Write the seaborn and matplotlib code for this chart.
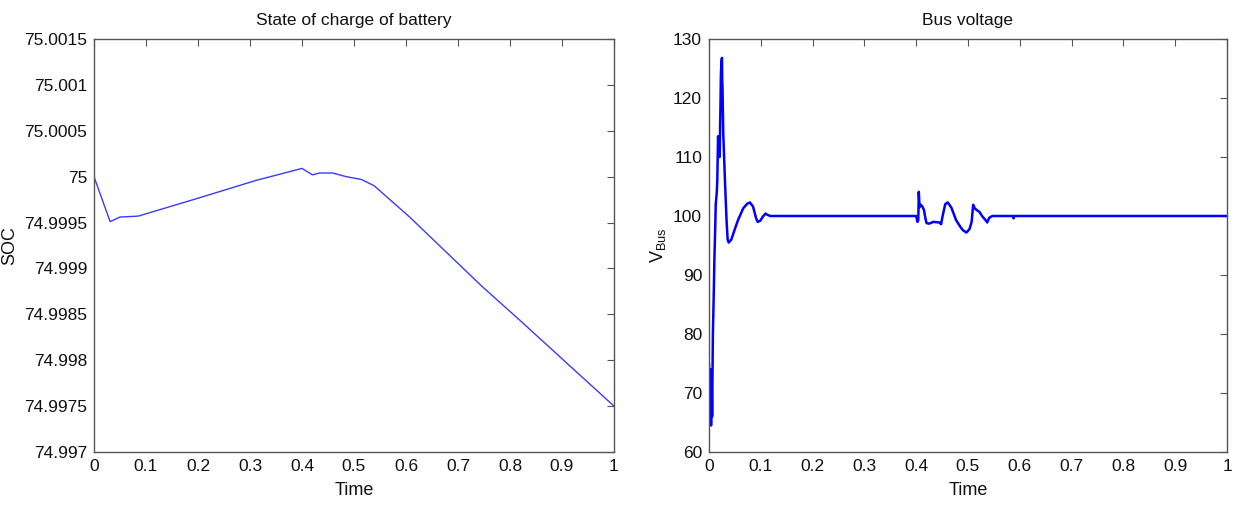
import matplotlib
matplotlib.use("Agg")
import matplotlib.pyplot as plt
import seaborn as sns
import pandas as pd
from matplotlib.ticker import FixedLocator, FixedFormatter

# ---------------- data ----------------
soc_time = [0.0, 0.031, 0.05, 0.085, 0.197, 0.312, 0.40, 0.42, 0.434, 0.459,
            0.485, 0.514, 0.539, 0.555, 0.607, 0.677, 0.747, 0.818, 0.998, 1.0]
soc_value = [75.0, 74.99951, 74.99956, 74.99957, 74.99976, 74.99996, 75.00009,
             75.00002, 75.00004, 75.00004, 75.0, 74.99997, 74.9999, 74.99982,
             74.99956, 74.99918, 74.9988, 74.99844, 74.99751, 74.9975]

bus_time = [0.0, 0.002, 0.003, 0.004, 0.005, 0.006, 0.0075, 0.009, 0.0105, 0.012,
            0.013, 0.015, 0.016, 0.0175, 0.019, 0.0205, 0.022, 0.023, 0.024, 0.025,
            0.0255, 0.026, 0.0275, 0.031, 0.034, 0.036, 0.038, 0.043, 0.05, 0.056,
            0.066, 0.074, 0.079, 0.085, 0.091, 0.094, 0.099, 0.104, 0.109, 0.113,
            0.118, 0.40, 0.4025, 0.404, 0.405, 0.4065, 0.409, 0.412, 0.415, 0.418,
            0.42, 0.425, 0.433, 0.445, 0.448, 0.451, 0.456, 0.461, 0.468, 0.477,
            0.485, 0.49, 0.497, 0.503, 0.507, 0.51, 0.513, 0.517, 0.522, 0.528,
            0.534, 0.537, 0.541, 0.547, 0.587, 0.588, 0.589, 1.0]
bus_value = [75, 66, 74, 64.5, 73, 66, 80, 86, 93, 98,
             102, 104, 106, 113.5, 111, 110, 118, 124, 126, 126.8,
             123, 122, 114, 105.5, 99, 96, 95.5, 96, 97.8, 99.3,
             101.3, 102.1, 102.3, 101.6, 99.6, 99.0, 99.2, 99.9, 100.4, 100.2,
             100.0, 100.0, 99.0, 99.3, 104.1, 101.5, 101.9, 101.6, 101.0, 99.5,
             98.8, 98.7, 99.0, 98.9, 98.6, 100.0, 102.0, 102.3, 101.4, 99.3,
             98.2, 97.6, 97.2, 97.8, 99.0, 101.9, 101.3, 101.0, 100.7, 99.9,
             99.3, 98.9, 99.7, 100.0, 100.0, 99.6, 100.0, 100.0]

x_ticks = [0, 0.1, 0.2, 0.3, 0.4, 0.5, 0.6, 0.7, 0.8, 0.9, 1]
x_labels = ["0", "0.1", "0.2", "0.3", "0.4", "0.5", "0.6", "0.7", "0.8", "0.9", "1"]
soc_ticks = [74.997, 74.9975, 74.998, 74.9985, 74.999, 74.9995, 75.0, 75.0005, 75.001, 75.0015]
soc_labels = ["74.997", "74.9975", "74.998", "74.9985", "74.999", "74.9995",
              "75", "75.0005", "75.001", "75.0015"]
bus_ticks = [60, 70, 80, 90, 100, 110, 120, 130]
bus_labels = ["60", "70", "80", "90", "100", "110", "120", "130"]

titles = ["State of charge of battery", "Bus voltage"]
xlabel = "Time"
ylabels = ["SOC", r"V$_{\mathrm{Bus}}$"]

# ---------------- style ----------------
sns.set_style("white")
plt.rcParams["font.family"] = ["Liberation Sans", "DejaVu Sans"]
plt.rcParams["mathtext.fontset"] = "custom"
plt.rcParams["mathtext.rm"] = "Liberation Sans"
plt.rcParams["mathtext.it"] = "Liberation Sans"

fig = plt.figure(figsize=(12.35, 5.07), dpi=100)
ax1 = fig.add_axes([94 / 1235, 55 / 507, 520 / 1235, 413 / 507])
ax2 = fig.add_axes([709 / 1235, 55 / 507, 518 / 1235, 413 / 507])

df_soc = pd.DataFrame({"t": soc_time, "v": soc_value})
df_bus = pd.DataFrame({"t": bus_time, "v": bus_value})

sns.lineplot(data=df_soc, x="t", y="v", ax=ax1, sort=False, estimator=None,
             color="#3a3aff", linewidth=1.0)
sns.lineplot(data=df_bus, x="t", y="v", ax=ax2, sort=False, estimator=None,
             color="#0000ff", linewidth=1.8)

for ax, yt, yl, ylim, title, ylab in [
        (ax1, soc_ticks, soc_labels, (74.997, 75.0015), titles[0], ylabels[0]),
        (ax2, bus_ticks, bus_labels, (60, 130), titles[1], ylabels[1])]:
    ax.set_xlim(0, 1)
    ax.set_ylim(*ylim)
    ax.xaxis.set_major_locator(FixedLocator(x_ticks))
    ax.xaxis.set_major_formatter(FixedFormatter(x_labels))
    ax.yaxis.set_major_locator(FixedLocator(yt))
    ax.yaxis.set_major_formatter(FixedFormatter(yl))
    ax.tick_params(direction="in", length=5, width=0.8, color="#555555",
                   top=True, right=True, labelsize=12.5, pad=5, labelcolor="#111111")
    for s in ax.spines.values():
        s.set_color("#555555")
        s.set_linewidth(1.0)
    ax.set_title(title, fontsize=12.5, pad=10, color="#111111")
    ax.set_xlabel(xlabel, fontsize=13, labelpad=6, color="#111111")
    ax.set_ylabel(ylab, fontsize=13, labelpad=4, color="#111111")

fig.savefig("out.png", dpi=100, facecolor="white")
